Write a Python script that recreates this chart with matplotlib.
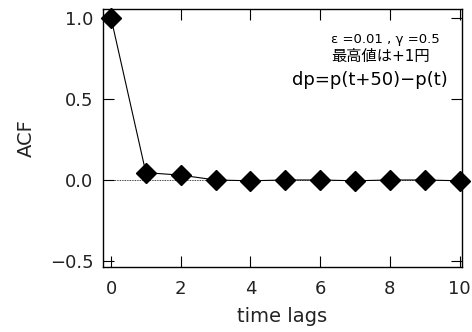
import matplotlib
matplotlib.use("Agg")
import matplotlib.pyplot as plt

plt.rcParams['font.family'] = ['DejaVu Sans', 'Noto Sans CJK JP']
plt.rcParams['axes.unicode_minus'] = True

# 自己相関関数の値
lags = [0, 1, 2, 3, 4, 5, 6, 7, 8, 9, 10]
acf = [1.0, 0.045, 0.03, 0.0, -0.005, 0.0, 0.0, -0.005, 0.0, 0.0, -0.005]

fig = plt.figure(figsize=(4.72, 3.32), dpi=100)
ax = fig.add_axes([103 / 472, 1 - 267 / 332, 359 / 472, 258 / 332])

ax.axhline(0, color='black', lw=0.6, ls=(0, (1, 1)), zorder=1)
ax.plot(lags, acf, color='black', lw=0.8, marker='D', markersize=10.5,
        markerfacecolor='black', clip_on=False, zorder=3)

ax.set_xlim(-0.23, 10.07)
ax.set_ylim(-0.537, 1.055)
ax.set_xticks([0, 2, 4, 6, 8, 10])
ax.set_yticks([-0.5, 0.0, 0.5, 1.0])
ax.set_yticklabels(['−0.5', '0.0', '0.5', '1.0'])
ax.tick_params(direction='in', length=8, width=0.8, labelsize=13,
               top=True, right=True, labelcolor='#222222')
ax.tick_params(axis='x', pad=9)
ax.tick_params(axis='y', pad=7)
for s in ax.spines.values():
    s.set_linewidth(1.0)

ax.set_xlabel('time lags', fontsize=14, labelpad=7, color='#222222')
ax.set_ylabel('ACF', fontsize=14, labelpad=10, color='#222222')

ax.text(7.86, 0.864, 'ε =0.01 , γ =0.5', fontsize=9.5, ha='center', va='center')
ax.text(7.72, 0.759, '最高値は+1円', fontsize=11, ha='center', va='center')
ax.text(7.43, 0.617, 'dp=p(t+50)−p(t)', fontsize=13, ha='center', va='center')

fig.savefig('out.png', dpi=100)
